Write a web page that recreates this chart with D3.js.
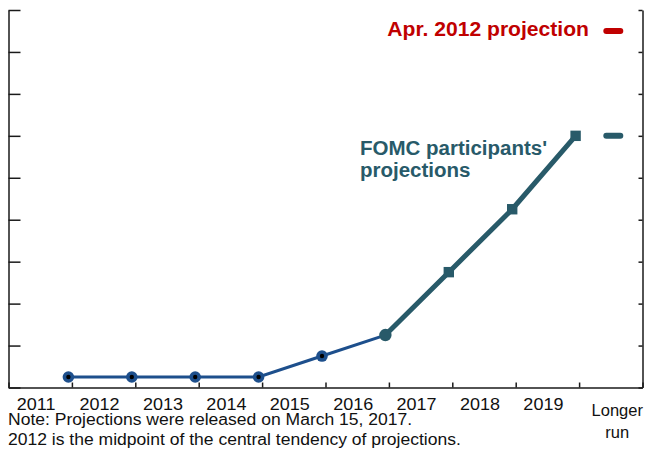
<!DOCTYPE html>
<html>
<head>
<meta charset="utf-8">
<script src="https://cdn.jsdelivr.net/npm/d3@7"></script>
<style>
  body { margin: 0; background: #fff; }
  svg { display: block; font-family: "Liberation Sans", Arial, sans-serif; }
</style>
</head>
<body>
<div id="chart"></div>
<script>
// Data
const yearLabels = ["2011", "2012", "2013", "2014", "2015", "2016", "2017", "2018", "2019"];
const actualYears = [2011, 2012, 2013, 2014, 2015, 2016];
const actualRate = [0.125, 0.125, 0.125, 0.125, 0.375, 0.625];
const projYears = [2016, 2017, 2018, 2019];
const projRate = [0.625, 1.375, 2.125, 3.0];
const longerRun = 3.0;
const apr2012LongerRun = 4.25;
const yTicks = [0, 0.5, 1, 1.5, 2, 2.5, 3, 3.5, 4, 4.5];

// Dimensions
const width = 647;
const height = 455;
const navy = "#1d4f8c";
const teal = "#285a69";
const red = "#c00000";

const svg = d3.select("#chart")
    .append("svg")
    .attr("width", width)
    .attr("height", height);

// Scales: one slot per year, plus one for longer run
const x = d3.scaleLinear().domain([2011, 2021]).range([8.5, 642.5]);
const y = d3.scaleLinear().domain([0, 4.5]).range([387.5, 10]);
const shift = -3.5; // marks and labels sit a little left of the ticks

// stretch text horizontally a bit like the source picture
function widen(sel, f) {
    sel.each(function () {
        const w = this.getComputedTextLength();
        d3.select(this).attr("textLength", w * f).attr("lengthAdjust", "spacingAndGlyphs");
    });
}

// Axes
const styleAxis = g => {
    g.selectAll("path, line").attr("stroke", "#1a1a1a").attr("stroke-width", 1.5);
    g.selectAll("text").remove();
};

svg.append("g")
    .attr("transform", `translate(${x(2011)},0)`)
    .call(d3.axisLeft(y).tickValues(yTicks).tickSize(-12).tickSizeOuter(0).tickFormat(""))
    .call(styleAxis);

svg.append("g")
    .attr("transform", `translate(${x(2021)},0)`)
    .call(d3.axisRight(y).tickValues(yTicks).tickSize(-4).tickSizeOuter(0).tickFormat(""))
    .call(styleAxis);

svg.append("g")
    .attr("transform", `translate(0,${y(0)})`)
    .call(d3.axisBottom(x).tickValues(d3.range(2011, 2022)).tickSize(-5).tickSizeOuter(0).tickFormat(""))
    .call(styleAxis);

// Year labels
svg.append("g").selectAll("text")
    .data(yearLabels)
    .enter()
    .append("text")
    .attr("x", d => x(+d + 0.5) + shift - 0.5)
    .attr("y", 410)
    .attr("text-anchor", "middle")
    .attr("font-size", 16.5)
    .attr("fill", "#111")
    .text(d => d)
    .call(widen, 1.09);

const lr = svg.append("text")
    .attr("text-anchor", "middle")
    .attr("font-size", 16.5)
    .attr("fill", "#111");
lr.append("tspan").attr("x", x(2020.5) + 6.5).attr("y", 416).text("Longer");
lr.append("tspan").attr("x", x(2020.5) + 6.5).attr("y", 437.5).text("run");

// Point x for a year: the value sits at the end of its year slot
const px = yr => x(yr + 1) + shift;

const line = d3.line()
    .x(d => px(d[0]))
    .y(d => y(d[1]));

// Actual path (navy)
const actual = actualYears.map((yr, i) => [yr, actualRate[i]]);
svg.append("path")
    .datum(actual)
    .attr("fill", "none")
    .attr("stroke", navy)
    .attr("stroke-width", 3)
    .attr("d", line);

// Projections path (teal)
const proj = projYears.map((yr, i) => [yr, projRate[i]]);
svg.append("path")
    .datum(proj)
    .attr("fill", "none")
    .attr("stroke", teal)
    .attr("stroke-width", 5)
    .attr("d", line);

// Navy circles with black centres
const dots = actual.slice(0, -1);
svg.append("g").selectAll("circle")
    .data(dots)
    .enter()
    .append("circle")
    .attr("cx", d => px(d[0]))
    .attr("cy", d => y(d[1]))
    .attr("r", 5.8)
    .attr("fill", navy);
svg.append("g").selectAll("circle")
    .data(dots)
    .enter()
    .append("circle")
    .attr("cx", d => px(d[0]))
    .attr("cy", d => y(d[1]))
    .attr("r", 2.2)
    .attr("fill", "#000");

// Teal circle at the first projection year
svg.append("circle")
    .attr("cx", px(proj[0][0]))
    .attr("cy", y(proj[0][1]))
    .attr("r", 6.2)
    .attr("fill", teal);

// Teal squares
svg.append("g").selectAll("rect")
    .data(proj.slice(1))
    .enter()
    .append("rect")
    .attr("x", d => px(d[0]) - 5.2)
    .attr("y", d => y(d[1]) - 5.2)
    .attr("width", 10.4)
    .attr("height", 10.4)
    .attr("fill", teal);

// Longer-run dashes
const dashX = x(2020.5) + 2.5;
svg.append("line")
    .attr("x1", dashX - 7).attr("x2", dashX + 7)
    .attr("y1", y(longerRun)).attr("y2", y(longerRun))
    .attr("stroke", teal).attr("stroke-width", 6).attr("stroke-linecap", "round");
svg.append("line")
    .attr("x1", dashX - 7).attr("x2", dashX + 7)
    .attr("y1", y(apr2012LongerRun)).attr("y2", y(apr2012LongerRun))
    .attr("stroke", red).attr("stroke-width", 6).attr("stroke-linecap", "round");

// Series labels
svg.append("text")
    .attr("x", 589)
    .attr("y", 35.5)
    .attr("text-anchor", "end")
    .attr("font-size", 20)
    .attr("font-weight", "bold")
    .attr("fill", red)
    .text("Apr. 2012 projection")
    .call(widen, 1.055);

const fomc = svg.append("text")
    .attr("font-size", 20)
    .attr("font-weight", "bold")
    .attr("fill", teal);
fomc.append("tspan").attr("x", 360).attr("y", 154.5).text("FOMC participants'");
fomc.append("tspan").attr("x", 360).attr("y", 176.5).text("projections");
fomc.selectAll("tspan").call(widen, 1.025);

// Notes
const notes = [
    "Note: Projections were released on March 15, 2017.",
    "2012 is the midpoint of the central tendency of projections."
];
svg.append("g").selectAll("text")
    .data(notes)
    .enter()
    .append("text")
    .attr("x", 8)
    .attr("y", (d, i) => 424.5 + i * 20)
    .attr("font-size", 16)
    .attr("fill", "#111")
    .text(d => d)
    .call(widen, 1.095);
</script>
</body>
</html>
